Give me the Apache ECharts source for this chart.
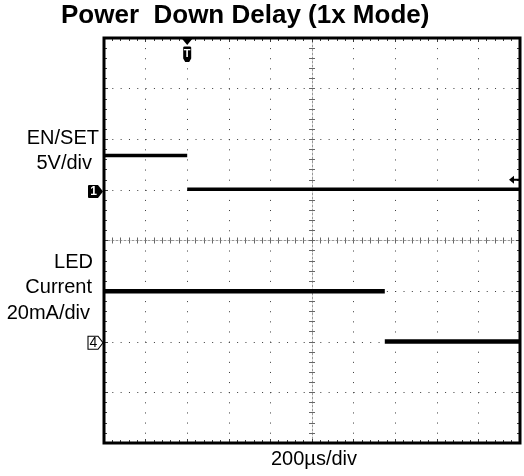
<!DOCTYPE html>
<html><head><meta charset="utf-8">
<script src="https://cdn.jsdelivr.net/npm/echarts@6/dist/echarts.min.js"></script>
<style>html,body{margin:0;padding:0;background:#fff}#c{width:524px;height:476px}</style>
</head><body><div id="c"></div>
<script>
// ---- data ----
const titleText = 'Power  Down Delay (1x Mode)';
const timeLabel = '200µs/div';
// time axis in µs: 200 µs/div, 10 divisions, trigger at 0
const timeMin = -400, timeMax = 1600, timeStep = 200;
// EN/SET trace (V), 5 V/div: piecewise-constant levels between edges
const enEdges = [-400, 0, 1600];
const enLevels = [3.4, 0.05];
const enLabel = ['EN/SET', '5V/div'];
// LED current trace (mA), 20 mA/div
const ledEdges = [-400, 950, 1600];
const ledLevels = [20, 0.1];
const ledLabel = ['LED', 'Current', '20mA/div'];
const triggerLevel = 1.0; // V on EN/SET

// ---- chart ----
const FONT = '"Liberation Sans", Arial, Helvetica, sans-serif';
const chart = echarts.init(document.getElementById('c'), null, {renderer: 'canvas'});
const dotColor = '#3a3a3a';

function segSeries(edges, levels, yIdx, width, extra) {
  const out = [];
  for (let i = 0; i < levels.length; i++) {
    const s = {
      type: 'line', xAxisIndex: 0, yAxisIndex: yIdx, symbol: 'none', silent: true,
      animation: false, z: 5,
      lineStyle: {color: '#000', width: width},
      data: [[edges[i], levels[i]], [edges[i + 1], levels[i]]]
    };
    if (i === 0 && extra) s.markPoint = extra;
    out.push(s);
  }
  return out;
}

const enMarks = {
  silent: true, animation: false,
  data: [
    { // trigger marker (T)
      coord: [0, 15],
      symbol: 'path://M0,0 L10,0 L5,6 Z M1,8.5 Q1,7.5 2.5,7.5 L7.5,7.5 Q9,7.5 9,8.5 L9,19.5 L7,23 L3,23 L1,19.5 Z',
      symbolSize: [10, 23], symbolOffset: [0, 12.5], symbolKeepAspect: false,
      itemStyle: {color: '#000'},
      label: {show: true, formatter: 'T', color: '#fff', fontSize: 11, fontWeight: 'bold', fontFamily: FONT, offset: [0, 3]}
    },
    { // channel 1 ground marker
      coord: [timeMin, 0],
      symbol: 'path://M1,0 L10,0 L15,6.5 L10,13 L1,13 Q0,13 0,12 L0,1 Q0,0 1,0 Z',
      symbolSize: [15, 13], symbolOffset: [-8.5, 1.5], symbolKeepAspect: false,
      itemStyle: {color: '#000'},
      label: {show: true, formatter: '1', color: '#fff', fontSize: 12, fontWeight: 'bold', fontFamily: FONT, offset: [-2, 0]}
    },
    { // trigger level marker
      coord: [timeMax, triggerLevel],
      symbol: 'path://M0,4 L5,0 L5,3 L10,3 L10,5 L5,5 L5,8 Z',
      symbolSize: [10, 8], symbolOffset: [-6, 0], symbolKeepAspect: false,
      itemStyle: {color: '#000'},
      label: {show: false}
    }
  ]
};
const ledMarks = {
  silent: true, animation: false,
  data: [
    { // channel 4 ground marker
      coord: [timeMin, 0],
      symbol: 'path://M0,0 L10,0 L15,6.5 L10,13 L0,13 Z',
      symbolSize: [15, 13], symbolOffset: [-8.5, 1], symbolKeepAspect: false,
      itemStyle: {color: '#fff', borderColor: '#000', borderWidth: 1},
      label: {show: true, formatter: '4', color: '#000', fontSize: 14, fontFamily: FONT, offset: [-2, 0]}
    }
  ]
};

const edgeTick = {show: true, inside: true, length: 4, lineStyle: {color: dotColor, width: 1}};
const edgeMinor = {show: true, splitNumber: 5, length: 3, lineStyle: {color: dotColor, width: 1}};
const ctrTick = {show: true, length: 3, lineStyle: {color: '#666', width: 1}};
const ctrMinor = {show: true, splitNumber: 5, length: 3, lineStyle: {color: '#666', width: 1}};
const noLabel = {show: false};
const noSplit = {show: false};

const option = {
  backgroundColor: '#fff',
  animation: false,
  title: {
    text: titleText, left: 61, top: 3, padding: 0,
    textStyle: {fontSize: 26, fontWeight: 'bold', color: '#000', fontFamily: FONT}
  },
  grid: {left: 104, right: 4, top: 38, bottom: 33, show: true, borderColor: '#000', borderWidth: 3, backgroundColor: 'transparent', z: 10},
  xAxis: [
    {type: 'value', min: timeMin, max: timeMax, interval: timeStep, position: 'bottom',
      axisLine: {show: false, onZero: false}, axisTick: edgeTick, minorTick: edgeMinor, axisLabel: noLabel,
      splitLine: {show: true, lineStyle: {color: dotColor, width: 1, type: [1, 9.12]}}},
    {type: 'value', min: timeMin, max: timeMax, interval: timeStep, position: 'top',
      axisLine: {show: false, onZero: false}, axisTick: edgeTick, minorTick: edgeMinor, axisLabel: noLabel, splitLine: noSplit},
    {type: 'value', min: timeMin, max: timeMax, interval: timeStep, position: 'bottom',
      axisLine: {show: true, onZero: true, onZeroAxisIndex: 0, lineStyle: {color: '#999', width: 1, type: [2, 2]}},
      axisTick: ctrTick, minorTick: ctrMinor, axisLabel: noLabel, splitLine: noSplit},
    {type: 'value', min: timeMin, max: timeMax, interval: timeStep, position: 'top',
      axisLine: {show: false, onZero: true, onZeroAxisIndex: 0},
      axisTick: ctrTick, minorTick: ctrMinor, axisLabel: noLabel, splitLine: noSplit},
    {type: 'value', min: -5, max: 5, show: false}
  ],
  yAxis: [
    {type: 'value', min: -4, max: 4, interval: 1, position: 'left',
      axisLine: {show: false, onZero: false}, axisTick: edgeTick, minorTick: edgeMinor, axisLabel: noLabel,
      splitLine: {show: true, lineStyle: {color: dotColor, width: 1, type: [1, 7.32]}}},
    {type: 'value', min: -4, max: 4, interval: 1, position: 'right',
      axisLine: {show: false, onZero: false}, axisTick: edgeTick, minorTick: edgeMinor, axisLabel: noLabel, splitLine: noSplit},
    {type: 'value', min: -4, max: 4, interval: 1, position: 'left',
      axisLine: {show: true, onZero: true, onZeroAxisIndex: 4, lineStyle: {color: '#999', width: 1, type: [2, 2]}},
      axisTick: ctrTick, minorTick: ctrMinor, axisLabel: noLabel, splitLine: noSplit},
    {type: 'value', min: -4, max: 4, interval: 1, position: 'right',
      axisLine: {show: false, onZero: true, onZeroAxisIndex: 4},
      axisTick: ctrTick, minorTick: ctrMinor, axisLabel: noLabel, splitLine: noSplit},
    {type: 'value', min: -25, max: 15, show: false},
    {type: 'value', min: -40, max: 120, show: false}
  ],
  graphic: [
    {type: 'text', right: 524 - 99, top: 128, style: {text: enLabel[0], font: '20px ' + FONT, fill: '#000'}},
    {type: 'text', right: 524 - 92, top: 153, style: {text: enLabel[1], font: '20px ' + FONT, fill: '#000'}},
    {type: 'text', right: 524 - 93, top: 252, style: {text: ledLabel[0], font: '20px ' + FONT, fill: '#000'}},
    {type: 'text', right: 524 - 92, top: 277, style: {text: ledLabel[1], font: '20px ' + FONT, fill: '#000'}},
    {type: 'text', right: 524 - 90, top: 303, style: {text: ledLabel[2], font: '20px ' + FONT, fill: '#000'}},
    {type: 'text', left: 271, top: 449, style: {text: timeLabel, font: '20px ' + FONT, fill: '#000'}}
  ],
  series: [].concat(
    segSeries(enEdges, enLevels, 4, 3.5, enMarks),
    segSeries(ledEdges, ledLevels, 5, 4.5, ledMarks)
  )
};
chart.setOption(option);
</script>
</body></html>
